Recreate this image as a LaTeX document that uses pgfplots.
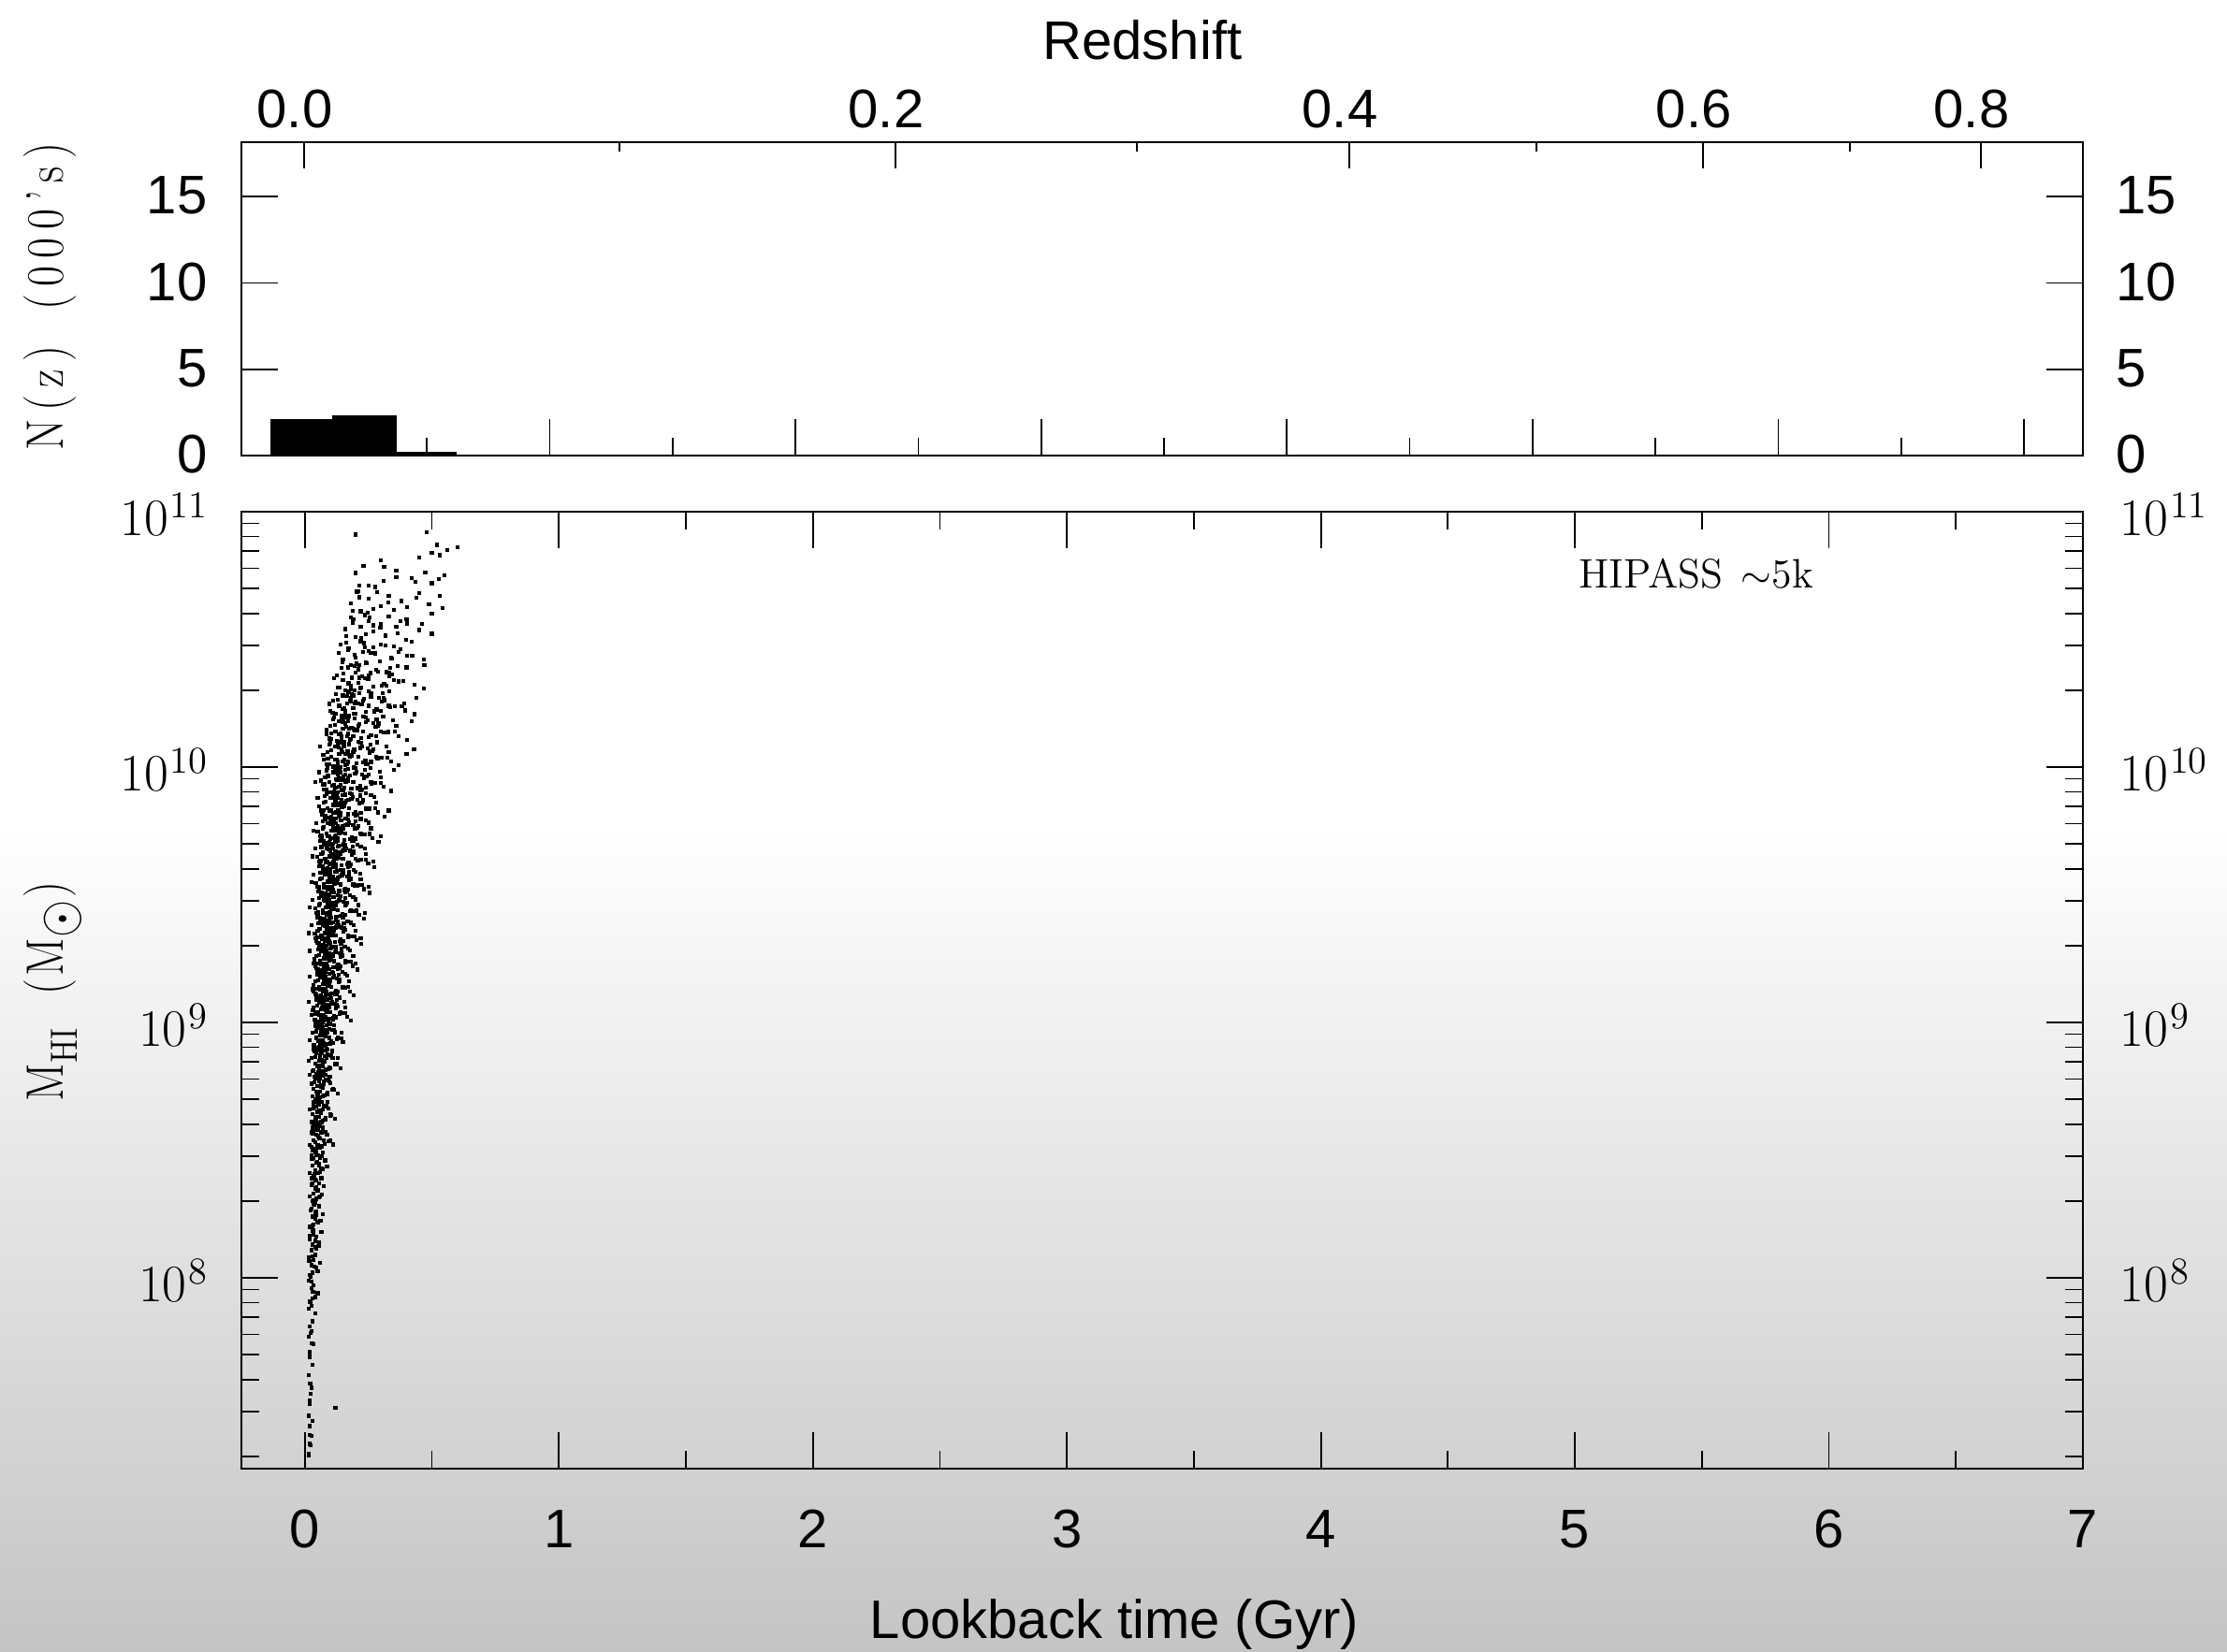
\documentclass[border=0pt]{standalone}
\usepackage{pgfplots}
\pgfplotsset{compat=1.18}
\usepackage{fontspec}
\newfontfamily\sansf{Liberation Sans}
\definecolor{bgbot}{gray}{0.77}
\newcommand{\sfs}{\sansf\fontsize{16.5}{18}\selectfont}
\newcommand{\rms}{\fontsize{16}{18}\selectfont}
\newcommand{\tp}[1]{10\kern0.5pt\raisebox{0.34em}{\fontsize{11.5}{12}\selectfont #1}}

\pgfplotstableread[row sep=\\]{
t lm\\
0.015 7.31\\ 0.02 7.35\\ 0.025 7.38\\ 0.02 7.42\\ 0.015 7.46\\ 0.03 7.44\\ 0.02 7.52\\ 0.12 7.49\\ 0.025 7.57\\
0.015 7.62\\ 0.03 7.66\\ 0.02 7.69\\ 0.02 7.71\\ 0.035 7.74\\ 0.015 7.77\\ 0.025 7.79\\
0.02 7.81\\ 0.03 7.83\\ 0.04 7.86\\ 0.015 7.88\\ 0.025 7.89\\
0.02 7.91\\ 0.03 7.92\\ 0.05 7.94\\ 0.025 7.96\\ 0.035 7.97\\ 0.015 7.99\\
0.02 8.01\\ 0.03 8.02\\ 0.045 8.04\\ 0.025 8.05\\ 0.06 8.06\\ 0.035 8.07\\ 0.015 8.08\\ 0.04 8.09\\
0.025 8.11\\ 0.04 8.12\\ 0.03 8.13\\ 0.055 8.14\\ 0.02 8.15\\ 0.045 8.16\\ 0.035 8.17\\ 0.065 8.18\\ 0.03 8.19\\
0.02 8.20\\ 0.035 8.21\\ 0.05 8.22\\ 0.04 8.23\\ 0.03 8.24\\ 0.07 8.25\\ 0.045 8.26\\ 0.025 8.27\\ 0.055 8.28\\ 0.035 8.29\\ 0.04 8.295\\
0.03 8.30\\ 0.045 8.31\\ 0.02 8.32\\ 0.06 8.32\\ 0.035 8.33\\ 0.05 8.34\\ 0.04 8.35\\ 0.075 8.36\\ 0.03 8.37\\ 0.055 8.37\\ 0.045 8.38\\ 0.025 8.39\\ 0.065 8.39\\
0.035 8.40\\ 0.05 8.41\\ 0.02 8.41\\ 0.04 8.42\\ 0.065 8.43\\ 0.03 8.44\\ 0.055 8.44\\ 0.045 8.45\\ 0.08 8.46\\ 0.035 8.47\\ 0.06 8.47\\ 0.025 8.48\\ 0.05 8.48\\ 0.04 8.49\\ 0.07 8.49\\
0.03 8.50\\ 0.045 8.50\\ 0.06 8.51\\ 0.02 8.52\\ 0.05 8.52\\ 0.04 8.53\\ 0.075 8.54\\ 0.035 8.54\\ 0.055 8.55\\ 0.09 8.56\\ 0.045 8.56\\ 0.025 8.57\\ 0.065 8.57\\ 0.05 8.58\\ 0.04 8.58\\ 0.07 8.59\\ 0.03 8.59\\ 0.06 8.595\\
0.035 8.60\\ 0.05 8.60\\ 0.065 8.61\\ 0.025 8.61\\ 0.045 8.62\\ 0.08 8.62\\ 0.04 8.63\\ 0.055 8.63\\ 0.1 8.64\\ 0.03 8.64\\ 0.06 8.65\\ 0.05 8.65\\ 0.07 8.66\\ 0.02 8.66\\ 0.045 8.67\\ 0.085 8.67\\ 0.055 8.68\\ 0.035 8.68\\ 0.065 8.69\\ 0.04 8.69\\
0.04 8.70\\ 0.055 8.70\\ 0.07 8.71\\ 0.03 8.71\\ 0.05 8.72\\ 0.09 8.72\\ 0.045 8.73\\ 0.06 8.73\\ 0.11 8.74\\ 0.035 8.74\\ 0.065 8.75\\ 0.05 8.75\\ 0.075 8.76\\ 0.025 8.76\\ 0.055 8.77\\ 0.095 8.77\\ 0.06 8.78\\ 0.04 8.78\\ 0.07 8.79\\ 0.045 8.79\\ 0.08 8.795\\ 0.02 8.795\\
0.045 8.80\\ 0.06 8.80\\ 0.075 8.81\\ 0.03 8.81\\ 0.055 8.82\\ 0.1 8.82\\ 0.05 8.83\\ 0.065 8.83\\ 0.12 8.84\\ 0.04 8.84\\ 0.07 8.85\\ 0.055 8.85\\ 0.085 8.86\\ 0.025 8.86\\ 0.06 8.87\\ 0.105 8.87\\ 0.065 8.88\\ 0.045 8.88\\ 0.08 8.89\\ 0.05 8.89\\ 0.09 8.895\\ 0.035 8.895\\ 0.07 8.83\\ 0.13 8.86\\ 0.015 8.85\\
0.05 8.90\\ 0.065 8.90\\ 0.08 8.91\\ 0.035 8.91\\ 0.06 8.92\\ 0.11 8.92\\ 0.055 8.93\\ 0.07 8.93\\ 0.13 8.94\\ 0.045 8.94\\ 0.075 8.95\\ 0.06 8.95\\ 0.09 8.96\\ 0.03 8.96\\ 0.065 8.97\\ 0.115 8.97\\ 0.07 8.98\\ 0.05 8.98\\ 0.085 8.99\\ 0.055 8.99\\ 0.1 8.995\\ 0.04 8.995\\ 0.075 8.92\\ 0.145 8.96\\ 0.02 8.93\\ 0.095 8.94\\ 0.08 8.97\\
0.055 9.00\\ 0.07 9.00\\ 0.085 9.01\\ 0.04 9.01\\ 0.065 9.02\\ 0.12 9.02\\ 0.06 9.03\\ 0.075 9.03\\ 0.14 9.04\\ 0.05 9.04\\ 0.08 9.05\\ 0.065 9.05\\ 0.095 9.06\\ 0.035 9.06\\ 0.07 9.07\\ 0.125 9.07\\ 0.075 9.08\\ 0.055 9.08\\ 0.09 9.09\\ 0.06 9.09\\ 0.105 9.095\\ 0.045 9.095\\ 0.08 9.02\\ 0.16 9.06\\ 0.025 9.03\\ 0.1 9.04\\ 0.085 9.07\\ 0.015 9.08\\ 0.11 9.01\\ 0.07 9.05\\
0.06 9.10\\ 0.075 9.10\\ 0.09 9.11\\ 0.045 9.11\\ 0.07 9.12\\ 0.13 9.12\\ 0.065 9.13\\ 0.08 9.13\\ 0.15 9.14\\ 0.055 9.14\\ 0.085 9.15\\ 0.07 9.15\\ 0.1 9.16\\ 0.04 9.16\\ 0.075 9.17\\ 0.135 9.17\\ 0.08 9.18\\ 0.06 9.18\\ 0.095 9.19\\ 0.065 9.19\\ 0.11 9.195\\ 0.05 9.195\\ 0.085 9.12\\ 0.175 9.16\\ 0.03 9.13\\ 0.105 9.14\\ 0.09 9.17\\ 0.02 9.18\\ 0.12 9.11\\ 0.075 9.15\\ 0.16 9.19\\ 0.035 9.12\\
0.065 9.20\\ 0.08 9.20\\ 0.095 9.21\\ 0.05 9.21\\ 0.075 9.22\\ 0.14 9.22\\ 0.07 9.23\\ 0.085 9.23\\ 0.16 9.24\\ 0.06 9.24\\ 0.09 9.25\\ 0.075 9.25\\ 0.11 9.26\\ 0.045 9.26\\ 0.08 9.27\\ 0.145 9.27\\ 0.085 9.28\\ 0.065 9.28\\ 0.1 9.29\\ 0.07 9.29\\ 0.12 9.295\\ 0.055 9.295\\ 0.09 9.22\\ 0.19 9.26\\ 0.035 9.23\\ 0.115 9.24\\ 0.095 9.27\\ 0.02 9.28\\ 0.13 9.21\\ 0.08 9.25\\ 0.17 9.29\\ 0.04 9.22\\ 0.105 9.26\\ 0.2 9.23\\
0.07 9.30\\ 0.085 9.30\\ 0.1 9.31\\ 0.055 9.31\\ 0.08 9.32\\ 0.15 9.32\\ 0.075 9.33\\ 0.09 9.33\\ 0.17 9.34\\ 0.065 9.34\\ 0.095 9.35\\ 0.08 9.35\\ 0.115 9.36\\ 0.05 9.36\\ 0.085 9.37\\ 0.155 9.37\\ 0.09 9.38\\ 0.07 9.38\\ 0.105 9.39\\ 0.075 9.39\\ 0.13 9.395\\ 0.06 9.395\\ 0.095 9.32\\ 0.2 9.36\\ 0.04 9.33\\ 0.12 9.34\\ 0.1 9.37\\ 0.025 9.38\\ 0.14 9.31\\ 0.085 9.35\\ 0.18 9.39\\ 0.045 9.32\\ 0.11 9.36\\ 0.22 9.33\\ 0.015 9.35\\ 0.125 9.38\\
0.075 9.40\\ 0.09 9.40\\ 0.105 9.41\\ 0.06 9.41\\ 0.085 9.42\\ 0.16 9.42\\ 0.08 9.43\\ 0.095 9.43\\ 0.18 9.44\\ 0.07 9.44\\ 0.1 9.45\\ 0.085 9.45\\ 0.12 9.46\\ 0.055 9.46\\ 0.09 9.47\\ 0.165 9.47\\ 0.095 9.48\\ 0.075 9.48\\ 0.11 9.49\\ 0.08 9.49\\ 0.14 9.495\\ 0.065 9.495\\ 0.1 9.42\\ 0.21 9.46\\ 0.045 9.43\\ 0.13 9.44\\ 0.105 9.47\\ 0.03 9.48\\ 0.15 9.41\\ 0.09 9.45\\ 0.19 9.49\\ 0.05 9.42\\ 0.115 9.46\\ 0.235 9.43\\ 0.02 9.45\\ 0.135 9.48\\
0.08 9.50\\ 0.095 9.50\\ 0.115 9.51\\ 0.065 9.51\\ 0.09 9.52\\ 0.17 9.52\\ 0.085 9.53\\ 0.1 9.53\\ 0.19 9.54\\ 0.075 9.54\\ 0.105 9.55\\ 0.09 9.55\\ 0.13 9.56\\ 0.06 9.56\\ 0.095 9.57\\ 0.175 9.57\\ 0.1 9.58\\ 0.08 9.58\\ 0.12 9.59\\ 0.085 9.59\\ 0.15 9.595\\ 0.07 9.595\\ 0.11 9.52\\ 0.22 9.56\\ 0.05 9.53\\ 0.14 9.54\\ 0.11 9.57\\ 0.035 9.58\\ 0.16 9.51\\ 0.095 9.55\\ 0.2 9.59\\ 0.055 9.52\\ 0.125 9.56\\ 0.25 9.53\\ 0.025 9.55\\ 0.145 9.58\\
0.085 9.60\\ 0.1 9.60\\ 0.12 9.61\\ 0.07 9.61\\ 0.095 9.62\\ 0.18 9.62\\ 0.09 9.63\\ 0.11 9.63\\ 0.2 9.64\\ 0.08 9.64\\ 0.115 9.65\\ 0.095 9.65\\ 0.14 9.66\\ 0.065 9.66\\ 0.1 9.67\\ 0.19 9.67\\ 0.11 9.68\\ 0.085 9.68\\ 0.13 9.69\\ 0.09 9.69\\ 0.16 9.695\\ 0.075 9.695\\ 0.12 9.62\\ 0.24 9.66\\ 0.055 9.63\\ 0.15 9.64\\ 0.12 9.67\\ 0.04 9.68\\ 0.17 9.61\\ 0.105 9.65\\ 0.22 9.69\\ 0.06 9.62\\ 0.135 9.66\\ 0.27 9.63\\ 0.03 9.65\\ 0.155 9.68\\
0.09 9.70\\ 0.11 9.70\\ 0.13 9.71\\ 0.075 9.71\\ 0.1 9.72\\ 0.2 9.72\\ 0.095 9.73\\ 0.12 9.73\\ 0.22 9.74\\ 0.085 9.74\\ 0.125 9.75\\ 0.105 9.75\\ 0.15 9.76\\ 0.07 9.76\\ 0.11 9.77\\ 0.21 9.77\\ 0.12 9.78\\ 0.09 9.78\\ 0.14 9.79\\ 0.1 9.79\\ 0.17 9.795\\ 0.08 9.795\\ 0.13 9.72\\ 0.26 9.76\\ 0.06 9.73\\ 0.16 9.74\\ 0.13 9.77\\ 0.045 9.78\\ 0.185 9.71\\ 0.115 9.75\\ 0.24 9.79\\ 0.065 9.72\\ 0.145 9.76\\ 0.3 9.73\\ 0.035 9.75\\
0.1 9.80\\ 0.12 9.80\\ 0.14 9.81\\ 0.08 9.81\\ 0.11 9.82\\ 0.22 9.82\\ 0.105 9.83\\ 0.13 9.83\\ 0.24 9.84\\ 0.09 9.84\\ 0.135 9.85\\ 0.115 9.85\\ 0.16 9.86\\ 0.075 9.86\\ 0.12 9.87\\ 0.23 9.87\\ 0.13 9.88\\ 0.1 9.88\\ 0.15 9.89\\ 0.11 9.89\\ 0.185 9.895\\ 0.085 9.895\\ 0.14 9.82\\ 0.28 9.86\\ 0.065 9.83\\ 0.175 9.84\\ 0.145 9.87\\ 0.05 9.88\\ 0.2 9.81\\ 0.125 9.85\\ 0.26 9.89\\ 0.07 9.82\\ 0.155 9.86\\ 0.33 9.83\\
0.105 9.90\\ 0.13 9.90\\ 0.15 9.91\\ 0.085 9.91\\ 0.12 9.92\\ 0.24 9.92\\ 0.115 9.93\\ 0.14 9.93\\ 0.26 9.94\\ 0.095 9.94\\ 0.145 9.95\\ 0.125 9.95\\ 0.17 9.96\\ 0.08 9.96\\ 0.13 9.97\\ 0.25 9.97\\ 0.14 9.98\\ 0.11 9.98\\ 0.16 9.99\\ 0.12 9.99\\ 0.2 9.995\\ 0.09 9.995\\ 0.155 9.92\\ 0.3 9.96\\ 0.07 9.93\\ 0.19 9.94\\ 0.16 9.97\\ 0.055 9.98\\ 0.22 9.91\\ 0.135 9.95\\ 0.35 9.99\\ 0.04 9.94\\
0.115 10.00\\ 0.14 10.00\\ 0.165 10.01\\ 0.095 10.01\\ 0.13 10.02\\ 0.26 10.02\\ 0.125 10.03\\ 0.155 10.03\\ 0.28 10.04\\ 0.105 10.04\\ 0.16 10.05\\ 0.135 10.05\\ 0.19 10.06\\ 0.09 10.06\\ 0.145 10.07\\ 0.27 10.07\\ 0.155 10.08\\ 0.12 10.08\\ 0.175 10.09\\ 0.13 10.09\\ 0.22 10.095\\ 0.1 10.095\\ 0.17 10.02\\ 0.33 10.06\\ 0.075 10.03\\ 0.21 10.04\\ 0.4 10.05\\ 0.06 10.08\\ 0.24 10.01\\ 0.43 10.07\\
0.13 10.10\\ 0.155 10.10\\ 0.18 10.11\\ 0.105 10.11\\ 0.145 10.12\\ 0.28 10.12\\ 0.14 10.13\\ 0.17 10.13\\ 0.3 10.14\\ 0.12 10.14\\ 0.175 10.15\\ 0.15 10.15\\ 0.21 10.16\\ 0.1 10.16\\ 0.16 10.17\\ 0.29 10.17\\ 0.17 10.18\\ 0.135 10.18\\ 0.195 10.19\\ 0.145 10.19\\ 0.24 10.195\\ 0.115 10.195\\ 0.19 10.12\\ 0.36 10.16\\ 0.085 10.13\\ 0.23 10.14\\ 0.42 10.18\\
0.145 10.20\\ 0.175 10.20\\ 0.2 10.21\\ 0.12 10.21\\ 0.16 10.22\\ 0.3 10.22\\ 0.155 10.23\\ 0.19 10.23\\ 0.33 10.24\\ 0.135 10.24\\ 0.195 10.25\\ 0.165 10.25\\ 0.23 10.26\\ 0.11 10.26\\ 0.18 10.27\\ 0.31 10.27\\ 0.19 10.28\\ 0.15 10.28\\ 0.215 10.29\\ 0.26 10.29\\ 0.39 10.25\\ 0.1 10.22\\ 0.25 10.24\\ 0.44 10.27\\
0.16 10.30\\ 0.195 10.30\\ 0.22 10.31\\ 0.135 10.31\\ 0.18 10.32\\ 0.32 10.32\\ 0.175 10.33\\ 0.21 10.33\\ 0.35 10.34\\ 0.15 10.34\\ 0.215 10.35\\ 0.185 10.35\\ 0.25 10.36\\ 0.125 10.36\\ 0.2 10.37\\ 0.33 10.37\\ 0.21 10.38\\ 0.28 10.38\\ 0.4 10.39\\ 0.17 10.39\\
0.18 10.40\\ 0.215 10.40\\ 0.24 10.41\\ 0.15 10.42\\ 0.2 10.43\\ 0.34 10.43\\ 0.195 10.44\\ 0.23 10.45\\ 0.37 10.45\\ 0.17 10.46\\ 0.235 10.47\\ 0.27 10.47\\ 0.3 10.48\\ 0.14 10.48\\ 0.42 10.49\\ 0.22 10.49\\ 0.47 10.40\\
0.2 10.51\\ 0.24 10.52\\ 0.27 10.53\\ 0.16 10.54\\ 0.22 10.55\\ 0.36 10.55\\ 0.3 10.56\\ 0.25 10.57\\ 0.4 10.58\\ 0.19 10.58\\ 0.33 10.59\\ 0.46 10.56\\ 0.5 10.60\\
0.22 10.61\\ 0.27 10.62\\ 0.3 10.63\\ 0.18 10.64\\ 0.38 10.65\\ 0.25 10.66\\ 0.33 10.67\\ 0.45 10.68\\ 0.21 10.69\\ 0.53 10.67\\
0.25 10.71\\ 0.31 10.73\\ 0.42 10.74\\ 0.2 10.76\\ 0.36 10.77\\ 0.5 10.72\\ 0.55 10.75\\
0.45 10.82\\ 0.5 10.84\\ 0.53 10.83\\ 0.3 10.81\\ 0.56 10.85\\ 0.6 10.86\\ 0.52 10.87\\
0.48 10.92\\ 0.2 10.91\\
}\hipassA

\pgfplotstableread[row sep=\\]{
t lm\\
0.016 7.305\\ 0.022 7.345\\ 0.019 7.385\\ 0.018 7.505\\ 0.024 7.545\\ 0.021 7.585\\ 0.020 7.705\\ 0.028 7.745\\ 0.023 7.785\\
0.021 7.905\\ 0.032 7.945\\ 0.026 7.985\\ 0.042 7.925\\
0.023 8.005\\ 0.037 8.045\\ 0.029 8.085\\ 0.050 8.025\\ 0.017 8.065\\
0.025 8.105\\ 0.040 8.145\\ 0.032 8.185\\ 0.054 8.125\\ 0.019 8.165\\ 0.044 8.115\\
0.029 8.205\\ 0.046 8.245\\ 0.036 8.285\\ 0.061 8.225\\ 0.022 8.265\\ 0.051 8.215\\ 0.040 8.255\\
0.033 8.305\\ 0.050 8.345\\ 0.040 8.385\\ 0.066 8.325\\ 0.025 8.365\\ 0.055 8.315\\ 0.044 8.355\\ 0.036 8.395\\
0.036 8.405\\ 0.055 8.445\\ 0.044 8.485\\ 0.071 8.425\\ 0.028 8.465\\ 0.060 8.415\\ 0.048 8.455\\ 0.040 8.495\\ 0.087 8.435\\ 0.065 8.475\\
0.040 8.505\\ 0.060 8.545\\ 0.049 8.585\\ 0.078 8.525\\ 0.032 8.565\\ 0.065 8.515\\ 0.053 8.555\\ 0.045 8.595\\ 0.094 8.535\\ 0.071 8.575\\ 0.051 8.508\\ 0.056 8.548\\
0.044 8.605\\ 0.064 8.645\\ 0.053 8.685\\ 0.083 8.625\\ 0.035 8.665\\ 0.070 8.615\\ 0.057 8.655\\ 0.048 8.695\\ 0.100 8.635\\ 0.076 8.675\\ 0.055 8.608\\ 0.060 8.648\\ 0.090 8.688\\ 0.041 8.628\\
0.048 8.705\\ 0.070 8.745\\ 0.057 8.785\\ 0.090 8.725\\ 0.038 8.765\\ 0.076 8.715\\ 0.062 8.755\\ 0.052 8.795\\ 0.109 8.735\\ 0.082 8.775\\ 0.060 8.708\\ 0.065 8.748\\ 0.098 8.788\\ 0.044 8.728\\ 0.073 8.768\\ 0.087 8.718\\
0.051 8.805\\ 0.076 8.845\\ 0.062 8.885\\ 0.097 8.825\\ 0.041 8.865\\ 0.082 8.815\\ 0.067 8.855\\ 0.057 8.895\\ 0.118 8.835\\ 0.089 8.875\\ 0.064 8.808\\ 0.070 8.848\\ 0.106 8.888\\ 0.048 8.828\\ 0.079 8.868\\ 0.094 8.818\\ 0.059 8.858\\ 0.086 8.898\\
0.055 8.905\\ 0.081 8.945\\ 0.066 8.985\\ 0.105 8.925\\ 0.044 8.965\\ 0.089 8.915\\ 0.072 8.955\\ 0.061 8.995\\ 0.127 8.935\\ 0.096 8.975\\ 0.069 8.908\\ 0.076 8.948\\ 0.114 8.988\\ 0.051 8.928\\ 0.085 8.968\\ 0.101 8.918\\ 0.064 8.958\\ 0.092 8.998\\ 0.145 8.938\\ 0.058 8.978\\
0.059 9.005\\ 0.088 9.045\\ 0.072 9.085\\ 0.114 9.025\\ 0.047 9.065\\ 0.096 9.015\\ 0.078 9.055\\ 0.066 9.095\\ 0.138 9.035\\ 0.104 9.075\\ 0.075 9.008\\ 0.082 9.048\\ 0.125 9.088\\ 0.055 9.028\\ 0.092 9.068\\ 0.110 9.018\\ 0.069 9.058\\ 0.100 9.098\\ 0.159 9.038\\ 0.063 9.078\\ 0.052 9.002\\ 0.084 9.042\\ 0.107 9.082\\ 0.070 9.022\\
0.064 9.105\\ 0.095 9.145\\ 0.077 9.185\\ 0.123 9.125\\ 0.051 9.165\\ 0.103 9.115\\ 0.084 9.155\\ 0.071 9.195\\ 0.148 9.135\\ 0.112 9.175\\ 0.081 9.108\\ 0.088 9.148\\ 0.134 9.188\\ 0.059 9.128\\ 0.099 9.168\\ 0.118 9.118\\ 0.074 9.158\\ 0.108 9.198\\ 0.170 9.138\\ 0.068 9.178\\ 0.056 9.102\\ 0.091 9.142\\ 0.115 9.182\\ 0.076 9.122\\ 0.086 9.162\\ 0.127 9.112\\
0.069 9.205\\ 0.102 9.245\\ 0.083 9.285\\ 0.131 9.225\\ 0.055 9.265\\ 0.111 9.215\\ 0.090 9.255\\ 0.076 9.295\\ 0.158 9.235\\ 0.120 9.275\\ 0.087 9.208\\ 0.095 9.248\\ 0.143 9.288\\ 0.064 9.228\\ 0.106 9.268\\ 0.126 9.218\\ 0.080 9.258\\ 0.115 9.298\\ 0.181 9.238\\ 0.073 9.278\\ 0.060 9.202\\ 0.097 9.242\\ 0.123 9.282\\ 0.081 9.222\\ 0.092 9.262\\ 0.136 9.212\\ 0.074 9.252\\ 0.103 9.292\\
0.073 9.305\\ 0.109 9.345\\ 0.088 9.385\\ 0.140 9.325\\ 0.058 9.365\\ 0.118 9.315\\ 0.096 9.355\\ 0.081 9.395\\ 0.170 9.335\\ 0.128 9.375\\ 0.092 9.308\\ 0.101 9.348\\ 0.153 9.388\\ 0.068 9.328\\ 0.113 9.368\\ 0.136 9.318\\ 0.085 9.358\\ 0.123 9.398\\ 0.195 9.338\\ 0.077 9.378\\ 0.064 9.302\\ 0.104 9.342\\ 0.132 9.382\\ 0.087 9.322\\ 0.098 9.362\\ 0.145 9.312\\ 0.079 9.352\\ 0.110 9.392\\ 0.094 9.332\\ 0.121 9.372\\
0.076 9.405\\ 0.113 9.445\\ 0.092 9.485\\ 0.147 9.425\\ 0.060 9.465\\ 0.124 9.415\\ 0.100 9.455\\ 0.084 9.495\\ 0.178 9.435\\ 0.134 9.475\\ 0.096 9.408\\ 0.105 9.448\\ 0.160 9.488\\ 0.070 9.428\\ 0.118 9.468\\ 0.142 9.418\\ 0.088 9.458\\ 0.129 9.498\\ 0.204 9.438\\ 0.080 9.478\\ 0.066 9.402\\ 0.108 9.442\\ 0.138 9.482\\ 0.090 9.422\\ 0.102 9.462\\ 0.152 9.412\\ 0.082 9.452\\ 0.115 9.492\\ 0.098 9.432\\ 0.126 9.472\\
0.083 9.505\\ 0.124 9.545\\ 0.100 9.585\\ 0.160 9.525\\ 0.065 9.565\\ 0.135 9.515\\ 0.109 9.555\\ 0.091 9.595\\ 0.195 9.535\\ 0.146 9.575\\ 0.105 9.508\\ 0.115 9.548\\ 0.175 9.588\\ 0.076 9.528\\ 0.129 9.568\\ 0.155 9.518\\ 0.096 9.558\\ 0.141 9.598\\ 0.223 9.538\\ 0.087 9.578\\ 0.072 9.502\\ 0.118 9.542\\ 0.151 9.582\\ 0.098 9.522\\ 0.111 9.562\\ 0.166 9.512\\ 0.089 9.552\\ 0.126 9.592\\ 0.107 9.532\\ 0.138 9.572\\
0.089 9.605\\ 0.133 9.645\\ 0.108 9.685\\ 0.172 9.625\\ 0.070 9.665\\ 0.145 9.615\\ 0.117 9.655\\ 0.098 9.695\\ 0.209 9.635\\ 0.157 9.675\\ 0.112 9.608\\ 0.123 9.648\\ 0.188 9.688\\ 0.082 9.628\\ 0.139 9.668\\ 0.166 9.618\\ 0.103 9.658\\ 0.151 9.698\\ 0.239 9.638\\ 0.094 9.678\\ 0.077 9.602\\ 0.126 9.642\\ 0.162 9.682\\ 0.105 9.622\\ 0.119 9.662\\ 0.178 9.612\\ 0.096 9.652\\ 0.135 9.692\\ 0.115 9.632\\ 0.148 9.672\\
0.095 9.705\\ 0.142 9.745\\ 0.115 9.785\\ 0.184 9.725\\ 0.075 9.765\\ 0.155 9.715\\ 0.125 9.755\\ 0.105 9.795\\ 0.223 9.735\\ 0.168 9.775\\ 0.120 9.708\\ 0.132 9.748\\ 0.200 9.788\\ 0.088 9.728\\ 0.148 9.768\\ 0.177 9.718\\ 0.110 9.758\\ 0.161 9.798\\ 0.255 9.738\\ 0.100 9.778\\ 0.083 9.702\\ 0.135 9.742\\ 0.173 9.782\\ 0.113 9.722\\ 0.128 9.762\\ 0.190 9.712\\ 0.103 9.752\\ 0.144 9.792\\ 0.123 9.732\\ 0.158 9.772\\
0.105 9.805\\ 0.155 9.845\\ 0.126 9.885\\ 0.200 9.825\\ 0.083 9.865\\ 0.169 9.815\\ 0.137 9.855\\ 0.115 9.895\\ 0.242 9.835\\ 0.183 9.875\\ 0.132 9.808\\ 0.144 9.848\\ 0.218 9.888\\ 0.097 9.828\\ 0.162 9.868\\ 0.193 9.818\\ 0.121 9.858\\ 0.176 9.898\\ 0.277 9.838\\ 0.110 9.878\\ 0.091 9.802\\ 0.148 9.842\\ 0.188 9.882\\ 0.124 9.822\\ 0.140 9.862\\ 0.207 9.812\\ 0.113 9.852\\ 0.158 9.892\\ 0.134 9.832\\ 0.172 9.872\\
0.114 9.905\\ 0.168 9.945\\ 0.137 9.985\\ 0.217 9.925\\ 0.091 9.965\\ 0.183 9.915\\ 0.149 9.955\\ 0.126 9.995\\ 0.262 9.935\\ 0.198 9.975\\ 0.143 9.908\\ 0.157 9.948\\ 0.236 9.988\\ 0.106 9.928\\ 0.176 9.968\\ 0.209 9.918\\ 0.132 9.958\\ 0.191 9.998\\ 0.300 9.938\\ 0.120 9.978\\ 0.100 9.902\\ 0.161 9.942\\ 0.204 9.982\\ 0.135 9.922\\ 0.152 9.962\\ 0.224 9.912\\ 0.123 9.952\\ 0.171 9.992\\
0.128 10.005\\ 0.185 10.045\\ 0.153 10.085\\ 0.238 10.025\\ 0.103 10.065\\ 0.202 10.015\\ 0.165 10.055\\ 0.140 10.095\\ 0.286 10.035\\ 0.218 10.075\\ 0.159 10.008\\ 0.173 10.048\\ 0.258 10.088\\ 0.119 10.028\\ 0.194 10.068\\ 0.229 10.018\\ 0.146 10.058\\ 0.210 10.098\\ 0.326 10.038\\ 0.134 10.078\\ 0.112 10.002\\ 0.177 10.042\\ 0.224 10.082\\ 0.150 10.022\\ 0.168 10.062\\ 0.246 10.012\\
0.143 10.105\\ 0.205 10.145\\ 0.170 10.185\\ 0.260 10.125\\ 0.117 10.165\\ 0.222 10.115\\ 0.183 10.155\\ 0.157 10.195\\ 0.312 10.135\\ 0.239 10.175\\ 0.176 10.108\\ 0.192 10.148\\ 0.282 10.188\\ 0.134 10.128\\ 0.213 10.168\\ 0.252 10.118\\ 0.163 10.158\\ 0.231 10.198\\ 0.355 10.138\\ 0.150 10.178\\ 0.127 10.102\\ 0.196 10.142\\ 0.246 10.182\\ 0.167 10.122\\
0.158 10.205\\ 0.223 10.245\\ 0.186 10.285\\ 0.282 10.225\\ 0.130 10.265\\ 0.241 10.215\\ 0.200 10.255\\ 0.172 10.295\\ 0.337 10.235\\ 0.260 10.275\\ 0.193 10.208\\ 0.209 10.248\\ 0.305 10.288\\ 0.148 10.228\\ 0.232 10.268\\ 0.273 10.218\\ 0.179 10.258\\ 0.250 10.298\\ 0.382 10.238\\ 0.165 10.278\\
0.181 10.305\\ 0.249 10.345\\ 0.210 10.385\\ 0.312 10.325\\ 0.151 10.365\\ 0.269 10.315\\ 0.225 10.355\\ 0.195 10.395\\ 0.369 10.335\\ 0.288 10.375\\ 0.218 10.308\\ 0.235 10.348\\ 0.336 10.388\\ 0.170 10.328\\ 0.259 10.368\\ 0.302 10.318\\
0.203 10.405\\ 0.276 10.445\\ 0.234 10.485\\ 0.341 10.425\\ 0.172 10.465\\ 0.296 10.415\\ 0.250 10.455\\ 0.219 10.495\\ 0.402 10.435\\ 0.316 10.475\\ 0.242 10.408\\ 0.260 10.448\\
0.221 10.505\\ 0.297 10.545\\ 0.254 10.585\\ 0.366 10.525\\ 0.188 10.565\\ 0.318 10.515\\ 0.270 10.555\\ 0.237 10.595\\
0.248 10.605\\ 0.328 10.645\\ 0.283 10.685\\ 0.401 10.625\\ 0.214 10.665\\ 0.351 10.615\\
0.276 10.705\\ 0.360 10.745\\ 0.312 10.785\\ 0.435 10.725\\
}\hipassB

\pgfplotstableread[row sep=\\]{
t lm\\
0.026 8.512\\ 0.087 8.562\\ 0.099 8.537\\ 0.030 8.587\\ 0.112 8.522\\ 0.080 8.572\\
0.028 8.612\\ 0.092 8.662\\ 0.105 8.637\\ 0.033 8.687\\ 0.119 8.622\\ 0.086 8.672\\
0.031 8.712\\ 0.100 8.762\\ 0.115 8.737\\ 0.036 8.787\\ 0.129 8.722\\ 0.093 8.772\\
0.033 8.812\\ 0.109 8.862\\ 0.124 8.837\\ 0.038 8.887\\ 0.140 8.822\\ 0.101 8.872\\
0.036 8.912\\ 0.117 8.962\\ 0.134 8.937\\ 0.041 8.987\\ 0.150 8.922\\ 0.108 8.972\\
0.038 9.012\\ 0.128 9.062\\ 0.146 9.037\\ 0.044 9.087\\ 0.165 9.022\\ 0.118 9.072\\ 0.032 9.047\\ 0.137 9.097\\ 0.180 9.007\\ 0.123 9.057\\ 0.041 9.032\\ 0.156 9.082\\
0.041 9.112\\ 0.137 9.162\\ 0.157 9.137\\ 0.048 9.187\\ 0.176 9.122\\ 0.127 9.172\\ 0.035 9.147\\ 0.147 9.197\\ 0.193 9.107\\ 0.132 9.157\\ 0.044 9.132\\ 0.167 9.182\\
0.045 9.212\\ 0.146 9.262\\ 0.167 9.237\\ 0.052 9.287\\ 0.188 9.222\\ 0.136 9.272\\ 0.038 9.247\\ 0.157 9.297\\ 0.206 9.207\\ 0.141 9.257\\ 0.048 9.232\\ 0.178 9.282\\
0.047 9.312\\ 0.157 9.362\\ 0.180 9.337\\ 0.054 9.387\\ 0.202 9.322\\ 0.145 9.372\\ 0.039 9.347\\ 0.168 9.397\\ 0.221 9.307\\ 0.151 9.357\\ 0.050 9.332\\ 0.191 9.382\\
0.048 9.412\\ 0.164 9.462\\ 0.188 9.437\\ 0.056 9.487\\ 0.212 9.422\\ 0.152 9.472\\ 0.040 9.447\\ 0.176 9.497\\ 0.232 9.407\\ 0.158 9.457\\ 0.052 9.432\\ 0.200 9.482\\
0.052 9.512\\ 0.179 9.562\\ 0.206 9.537\\ 0.061 9.587\\ 0.232 9.522\\ 0.166 9.572\\ 0.043 9.547\\ 0.193 9.597\\ 0.254 9.507\\ 0.173 9.557\\ 0.056 9.532\\ 0.219 9.582\\
0.056 9.612\\ 0.192 9.662\\ 0.220 9.637\\ 0.065 9.687\\ 0.249 9.622\\ 0.178 9.672\\ 0.047 9.647\\ 0.206 9.697\\ 0.272 9.607\\ 0.185 9.657\\ 0.061 9.632\\ 0.235 9.682\\
0.060 9.712\\ 0.205 9.762\\ 0.235 9.737\\ 0.070 9.787\\ 0.265 9.722\\ 0.190 9.772\\ 0.050 9.747\\ 0.220 9.797\\ 0.290 9.707\\ 0.198 9.757\\ 0.065 9.732\\ 0.250 9.782\\
0.067 9.812\\ 0.223 9.862\\ 0.256 9.837\\ 0.078 9.887\\ 0.288 9.822\\ 0.207 9.872\\ 0.056 9.847\\ 0.240 9.897\\ 0.315 9.807\\ 0.215 9.857\\ 0.072 9.832\\ 0.272 9.882\\
0.074 9.912\\ 0.242 9.962\\ 0.277 9.937\\ 0.085 9.987\\ 0.311 9.922\\ 0.224 9.972\\ 0.062 9.947\\ 0.259 9.997\\ 0.340 9.907\\ 0.233 9.957\\ 0.079 9.932\\ 0.294 9.982\\
0.084 10.012\\ 0.264 10.062\\ 0.301 10.037\\ 0.097 10.087\\ 0.339 10.022\\ 0.246 10.072\\ 0.072 10.047\\ 0.283 10.097\\ 0.370 10.007\\ 0.255 10.057\\ 0.091 10.032\\ 0.320 10.082\\
0.097 10.112\\ 0.289 10.162\\ 0.328 10.137\\ 0.110 10.187\\ 0.368 10.122\\ 0.269 10.172\\ 0.084 10.147\\ 0.308 10.197\\ 0.401 10.107\\ 0.279 10.157\\ 0.104 10.132\\ 0.348 10.182\\
0.109 10.212\\ 0.312 10.262\\ 0.354 10.237\\ 0.123 10.287\\ 0.396 10.222\\ 0.291 10.272\\ 0.095 10.247\\ 0.333 10.297\\ 0.431 10.207\\ 0.302 10.257\\
0.129 10.312\\ 0.343 10.362\\ 0.388 10.337\\ 0.144 10.387\\ 0.432 10.322\\ 0.321 10.372\\ 0.114 10.347\\ 0.366 10.397\\ 0.469 10.307\\ 0.332 10.357\\
0.149 10.412\\ 0.375 10.462\\ 0.422 10.437\\ 0.164 10.487\\ 0.468 10.422\\ 0.351 10.472\\ 0.133 10.447\\ 0.398 10.497\\
0.163 10.512\\ 0.401 10.562\\ 0.450 10.537\\ 0.180 10.587\\ 0.500 10.522\\ 0.377 10.572\\
0.188 10.612\\ 0.438 10.662\\ 0.489 10.637\\ 0.205 10.687\\ 0.541 10.622\\
0.213 10.712\\ 0.474 10.762\\ 0.528 10.737\\ 0.231 10.787\\
}\hipassC

\begin{document}
\begin{tikzpicture}[x=1cm,y=1cm]
\fill[white] (0,8.86) rectangle (23.8,17.66);
\shade[top color=white,bottom color=bgbot] (0,0) rectangle (23.8,8.86);

\pgfplotsset{
  panel/.style={scale only axis, width=19.68cm, anchor=south west,
    axis line style={line width=0.7pt},
    tick style={line width=0.5pt, black},
    tick align=inside},
}

% ---------- top panel (histogram) ----------
\begin{axis}[panel, at={(2.58cm,12.79cm)}, height=3.35cm,
  xmin=-0.255, xmax=7.24, ymin=0, ymax=18.16,
  major tick length=0.39cm, minor tick length=0.19cm,
  xtick={0,1,2,3,4,5,6,7}, minor xtick={0.5,1.5,2.5,3.5,4.5,5.5,6.5},
  xtick pos=left, xticklabels={},
  ytick={0,5,10,15}, yticklabels={0,5,10,15},
  ytick pos=both, yticklabel pos=left,
  yticklabel style={font=\sfs, inner sep=1pt, xshift=-0.325cm, yshift=0.01cm}]
\addplot[ybar interval, fill=black, draw=black] coordinates {(-0.133,2.07) (0.118,2.28) (0.373,0.16) (0.62,0.16)};
\end{axis}

\begin{axis}[panel, at={(2.58cm,12.79cm)}, height=3.35cm,
  xmin=-0.255, xmax=7.24, ymin=0, ymax=18.16,
  axis line style={draw=none},
  major tick length=0.28cm, minor tick length=0.1cm,
  xtick={0,2.407,4.254,5.694,6.825}, xticklabels={0.0,0.2,0.4,0.6,0.8},
  minor xtick={1.283,3.390,5.016,6.292},
  xtick pos=right, xticklabel pos=right,
  xticklabel style={font=\sfs, xshift=-0.1cm, yshift=0.03cm},
  ytick={0,5,10,15}, yticklabels={0,5,10,15},
  ytick pos=right, yticklabel pos=right,
  yticklabel style={font=\sfs, inner sep=1pt, xshift=0.315cm, yshift=0.01cm}]
\end{axis}

% ---------- bottom panel (scatter) ----------
\begin{axis}[panel, at={(2.58cm,1.96cm)}, height=10.23cm,
  xmin=-0.25, xmax=7, ymin=7.253, ymax=11,
  major tick length=0.39cm, minor tick length=0.19cm,
  xtick={0,1,2,3,4,5,6,7}, minor xtick={0.5,1.5,2.5,3.5,4.5,5.5,6.5},
  xticklabels={0,1,2,3,4,5,6,7}, xtick pos=both, xticklabel pos=left,
  xticklabel style={font=\sfs, yshift=-0.32cm},
  ytick={8,9,10,11}, yticklabels={\tp{8},\tp{9},\tp{10},\tp{11}},
  minor ytick={7.30103,7.47712,7.60206,7.69897,7.77815,7.84510,7.90309,7.95424,
               8.30103,8.47712,8.60206,8.69897,8.77815,8.84510,8.90309,8.95424,
               9.30103,9.47712,9.60206,9.69897,9.77815,9.84510,9.90309,9.95424,
               10.30103,10.47712,10.60206,10.69897,10.77815,10.84510,10.90309,10.95424},
  ytick pos=both, yticklabel pos=left,
  yticklabel style={font=\rms, inner sep=1pt, xshift=-0.325cm, yshift=-0.03cm}]
\addplot[only marks, mark=square*, mark size=0.4pt, black] table[x=t, y=lm] {\hipassA};
\addplot[only marks, mark=square*, mark size=0.4pt, black] table[x=t, y=lm] {\hipassB};
\addplot[only marks, mark=square*, mark size=0.4pt, black] table[x=t, y=lm] {\hipassC};
\node[anchor=base west, inner sep=0pt, font=\fontsize{12.5}{14}\selectfont] at (axis cs:5.014,10.703) {HIPASS\hspace{0.45em}$\sim$5k};
\end{axis}

\begin{axis}[panel, at={(2.58cm,1.96cm)}, height=10.23cm,
  xmin=-0.25, xmax=7, ymin=7.253, ymax=11,
  axis line style={draw=none},
  major tick length=0.39cm,
  xtick=\empty,
  ytick={8,9,10,11}, yticklabels={\tp{8},\tp{9},\tp{10},\tp{11}},
  ytick pos=right, yticklabel pos=right,
  yticklabel style={font=\rms, inner sep=1pt, xshift=0.355cm, yshift=-0.03cm}]
\end{axis}

% ---------- axis labels ----------
\node[anchor=base, font=\sfs] at (12.21,17.02) {Redshift};
\node[anchor=base, font=\sfs] at (11.91,0.14) {Lookback time (Gyr)};
\node[anchor=base, rotate=90, font=\fontsize{16}{18}\selectfont] at (0.68,14.49)
  {\scalebox{0.85}[1]{N\kern2.8pt(\kern2.8pt z\kern2.8pt)\hspace{0.8em}(\kern2.8pt0\kern2.8pt0\kern2.8pt0\kern2.8pt'\kern2.8pt s\kern2.8pt)}};
\node[anchor=base, rotate=90, font=\fontsize{16}{18}\selectfont] at (0.68,7.06)
  {\scalebox{0.85}[1]{M\raisebox{-0.25em}{\fontsize{11.5}{12}\selectfont HI}\hspace{0.75em}(\kern1pt M\raisebox{-0.25em}{$\odot$}\kern1pt)}};

\pgfresetboundingbox
\path[use as bounding box] (0,0) rectangle (23.8,17.66);
\end{tikzpicture}
\end{document}
